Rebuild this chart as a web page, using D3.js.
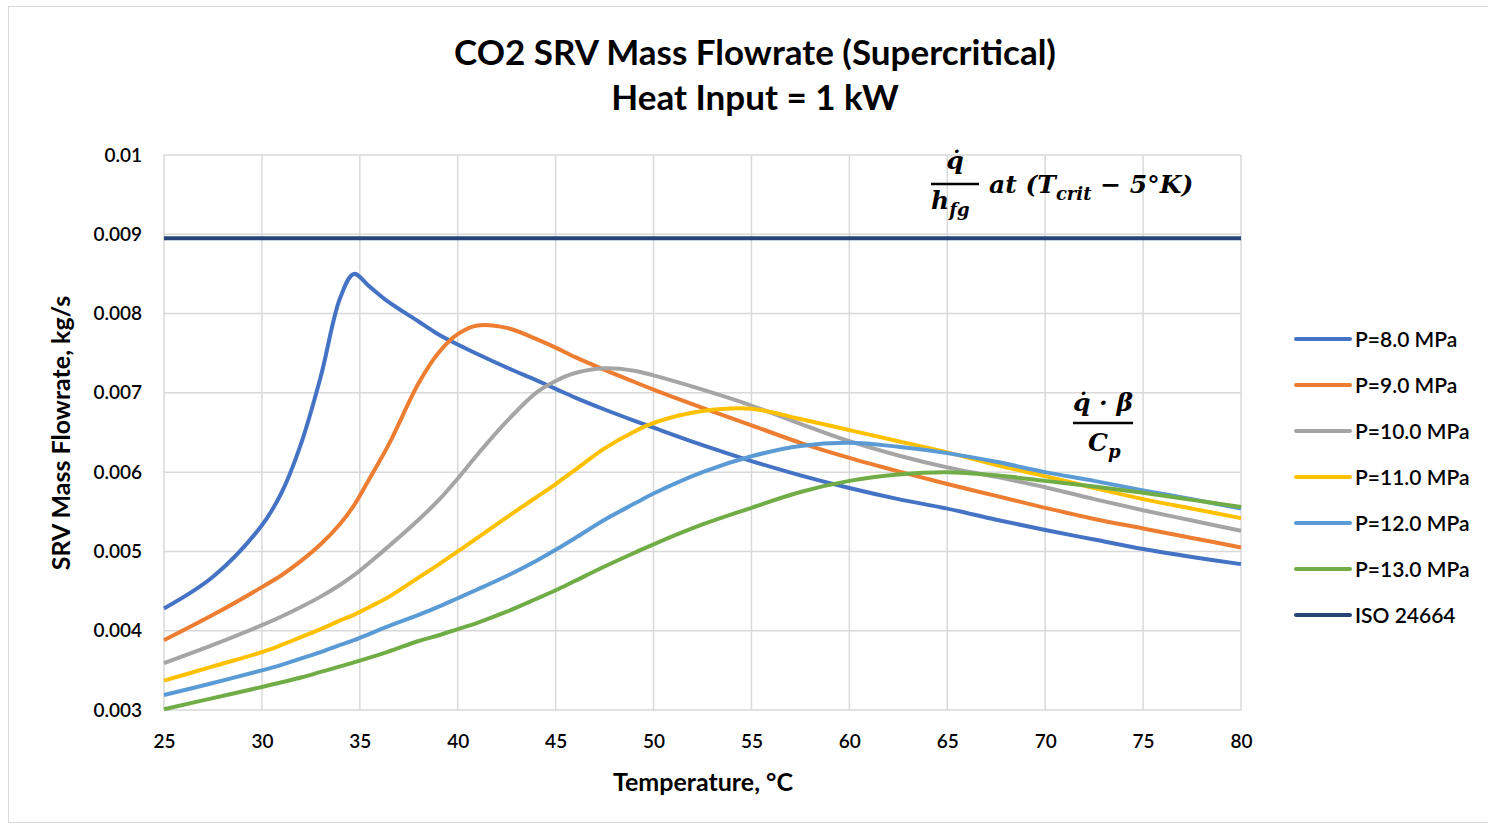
<!DOCTYPE html>
<html>
<head>
<meta charset="utf-8">
<script src="https://cdn.jsdelivr.net/npm/d3@7"></script>
<style>
  body { margin: 0; background: #fff; }
  svg text { font-family: Lato, "Open Sans", sans-serif; fill: #000; }
  .math text { font-family: "DejaVu Serif", serif; font-style: italic; font-weight: bold; }
</style>
</head>
<body>
<svg id="chart" width="1488" height="827"></svg>
<script>
// temperatures (°C) shared by every pressure series
const temps = [25, 27.5, 30, 31, 32, 33, 34, 34.7, 35.5, 36.5, 38, 39, 40, 41, 42.5, 44, 45, 46,
               47.5, 49, 50, 52.5, 55, 57.5, 60, 62.5, 65, 67.5, 70, 72.5, 75, 77.5, 80];

const seriesNames = ['P=8.0 MPa', 'P=9.0 MPa', 'P=10.0 MPa', 'P=11.0 MPa', 'P=12.0 MPa', 'P=13.0 MPa'];

const flowP8 = [0.00428, 0.00468, 0.00533, 0.00574, 0.00636, 0.00720, 0.00820, 0.00850, 0.00834, 0.00814,
                0.00790, 0.00774, 0.00761, 0.00749, 0.00732, 0.00716, 0.00705, 0.00694, 0.00679, 0.00665,
                0.00656, 0.00634, 0.00614, 0.00596, 0.00580, 0.00566, 0.00554, 0.00540, 0.00527, 0.00515,
                0.00503, 0.00493, 0.00484];
const flowP9 = [0.00388, 0.00420, 0.00455, 0.00470, 0.00488, 0.00509, 0.00535, 0.00558, 0.00592, 0.00636,
                0.00712, 0.00750, 0.00774, 0.00785, 0.00782, 0.00768, 0.00757, 0.00745, 0.00729, 0.00714,
                0.00704, 0.00681, 0.00659, 0.00637, 0.00618, 0.00601, 0.00585, 0.00570, 0.00555, 0.00541,
                0.00529, 0.00517, 0.00505];
const flowP10 = [0.00359, 0.00382, 0.00407, 0.00418, 0.00430, 0.00443, 0.00458, 0.00470, 0.00486, 0.00507,
                 0.00540, 0.00564, 0.00592, 0.00622, 0.00664, 0.00700, 0.00715, 0.00725, 0.00731, 0.00728,
                 0.00722, 0.00704, 0.00684, 0.00661, 0.00639, 0.00621, 0.00606, 0.00594, 0.00581, 0.00566,
                 0.00552, 0.00539, 0.00526];
const flowP11 = [0.00337, 0.00355, 0.00373, 0.00382, 0.00392, 0.00402, 0.00413, 0.00420, 0.00430, 0.00443,
                 0.00467, 0.00483, 0.00500, 0.00517, 0.00543, 0.00568, 0.00585, 0.00603, 0.00630, 0.00651,
                 0.00662, 0.00677, 0.00680, 0.00667, 0.00653, 0.00639, 0.00625, 0.00609, 0.00595, 0.00580,
                 0.00566, 0.00554, 0.00542];
const flowP12 = [0.00319, 0.00334, 0.00350, 0.00357, 0.00365, 0.00373, 0.00382, 0.00388, 0.00396, 0.00406,
                 0.00420, 0.00430, 0.00441, 0.00452, 0.00469, 0.00488, 0.00502, 0.00517, 0.00540, 0.00560,
                 0.00573, 0.00600, 0.00620, 0.00633, 0.00637, 0.00632, 0.00624, 0.00613, 0.00600, 0.00589,
                 0.00577, 0.00566, 0.00554];
const flowP13 = [0.00301, 0.00315, 0.00329, 0.00335, 0.00341, 0.00348, 0.00355, 0.00360, 0.00366, 0.00374,
                 0.00387, 0.00394, 0.00402, 0.00410, 0.00424, 0.00440, 0.00451, 0.00463, 0.00481, 0.00498,
                 0.00509, 0.00534, 0.00555, 0.00575, 0.00589, 0.00597, 0.00600, 0.00596, 0.00589, 0.00582,
                 0.00574, 0.00565, 0.00556];

const isoName = 'ISO 24664';
const isoTemps = [25, 80];
const isoFlow = [0.00895, 0.00895];

const xTicks = [25, 30, 35, 40, 45, 50, 55, 60, 65, 70, 75, 80];
const yTicks = [0.003, 0.004, 0.005, 0.006, 0.007, 0.008, 0.009, 0.01];

const colors = ['#4472c4', '#ed7d31', '#a5a5a5', '#ffc000', '#5b9bd5', '#70ad47', '#264478'];

const plot = { left: 164, right: 1241, top: 155, bottom: 710 };

const svg = d3.select('#chart');

// chart frame
svg.append('rect')
    .attr('x', 8.5).attr('y', 6.5)
    .attr('width', 1500).attr('height', 816)
    .attr('fill', '#fff').attr('stroke', '#d9d9d9');

const x = d3.scaleLinear().domain([25, 80]).range([plot.left, plot.right]);
const y = d3.scaleLinear().domain([0.003, 0.01]).range([plot.bottom, plot.top]);

// gridlines
svg.append('g')
    .selectAll('line').data(xTicks).enter().append('line')
    .attr('x1', d => x(d)).attr('x2', d => x(d))
    .attr('y1', plot.top).attr('y2', plot.bottom)
    .attr('stroke', '#d9d9d9').attr('stroke-width', 1.5);
svg.append('g')
    .selectAll('line').data(yTicks).enter().append('line')
    .attr('x1', plot.left).attr('x2', plot.right)
    .attr('y1', d => y(d)).attr('y2', d => y(d))
    .attr('stroke', '#d9d9d9').attr('stroke-width', 1.5);

// axes (labels only)
const xAxis = svg.append('g')
    .attr('transform', 'translate(0,' + plot.bottom + ')')
    .call(d3.axisBottom(x).tickValues(xTicks).tickSize(0).tickPadding(25).tickFormat(d3.format('d')));
const yAxis = svg.append('g')
    .attr('transform', 'translate(' + plot.left + ',0)')
    .call(d3.axisLeft(y).tickValues(yTicks).tickSize(0).tickPadding(22).tickFormat(d => String(+d.toFixed(3))));
[xAxis, yAxis].forEach(function(a) {
    a.select('.domain').remove();
    a.selectAll('text')
        .style('font-family', 'Lato, sans-serif')
        .style('font-size', '19px')
        .style('font-weight', '600')
        .attr('fill', '#000');
});

// series
const allFlows = [flowP8, flowP9, flowP10, flowP11, flowP12, flowP13];
const line = d3.line()
    .x(d => x(d[0]))
    .y(d => y(d[1]))
    .curve(d3.curveCatmullRom.alpha(0.5));

svg.append('path')
    .datum(isoTemps.map((t, i) => [t, isoFlow[i]]))
    .attr('d', line)
    .attr('fill', 'none')
    .attr('stroke', colors[6])
    .attr('stroke-width', 4);

allFlows.forEach(function(vals, i) {
    svg.append('path')
        .datum(temps.map((t, j) => [t, vals[j]]))
        .attr('d', line)
        .attr('fill', 'none')
        .attr('stroke', colors[i])
        .attr('stroke-width', 4)
        .attr('stroke-linejoin', 'round');
});

// titles
const title = svg.append('text')
    .attr('text-anchor', 'middle')
    .style('font-size', '35px').style('font-weight', 'bold');
title.append('tspan').attr('x', 755).attr('y', 65).text('CO2 SRV Mass Flowrate (Supercritical)');
title.append('tspan').attr('x', 755).attr('y', 110).text('Heat Input = 1 kW');

svg.append('text')
    .attr('x', 703).attr('y', 791)
    .attr('text-anchor', 'middle')
    .style('font-size', '25px').style('font-weight', 'bold')
    .text('Temperature, °C');

svg.append('text')
    .attr('transform', 'translate(70,433) rotate(-90)')
    .attr('text-anchor', 'middle')
    .style('font-size', '25px').style('font-weight', 'bold')
    .text('SRV Mass Flowrate, kg/s');

// legend
const legendNames = seriesNames.concat([isoName]);
const legend = svg.append('g').attr('transform', 'translate(1296,339)');
legendNames.forEach(function(name, i) {
    const row = legend.append('g').attr('transform', 'translate(0,' + (i * 46) + ')');
    row.append('line')
        .attr('x1', 0).attr('x2', 54)
        .attr('stroke', colors[i]).attr('stroke-width', 4)
        .attr('stroke-linecap', 'round');
    row.append('text')
        .attr('x', 59).attr('y', 7.5)
        .style('font-size', '21px').style('font-weight', '600')
        .text(name);
});

// equation annotations
const eq1 = svg.append('g').attr('class', 'math');
eq1.append('text').attr('x', 955).attr('y', 169).attr('text-anchor', 'middle')
    .style('font-size', '25px').text('q\u0307');
eq1.append('line').attr('x1', 931).attr('x2', 979).attr('y1', 184).attr('y2', 184)
    .attr('stroke', '#000').attr('stroke-width', 2.5);
const den1 = eq1.append('text').attr('x', 931).attr('y', 209).style('font-size', '25px');
den1.append('tspan').text('h');
den1.append('tspan').attr('dy', 7).style('font-size', '18px').text('fg');
const rest1 = eq1.append('text').attr('x', 989).attr('y', 193).style('font-size', '25px');
rest1.append('tspan').text('at (T');
rest1.append('tspan').attr('dy', 7).style('font-size', '18px').text('crit');
rest1.append('tspan').attr('dy', -7).text(' \u2212 5°K)');

const eq2 = svg.append('g').attr('class', 'math');
eq2.append('text').attr('x', 1103).attr('y', 411).attr('text-anchor', 'middle')
    .style('font-size', '25px').text('q\u0307 \u00b7 \u03b2');
eq2.append('line').attr('x1', 1073).attr('x2', 1133).attr('y1', 423).attr('y2', 423)
    .attr('stroke', '#000').attr('stroke-width', 2.5);
const den2 = eq2.append('text').attr('x', 1088).attr('y', 451).style('font-size', '25px');
den2.append('tspan').text('C');
den2.append('tspan').attr('dy', 7).style('font-size', '18px').text('p');
</script>
</body>
</html>
